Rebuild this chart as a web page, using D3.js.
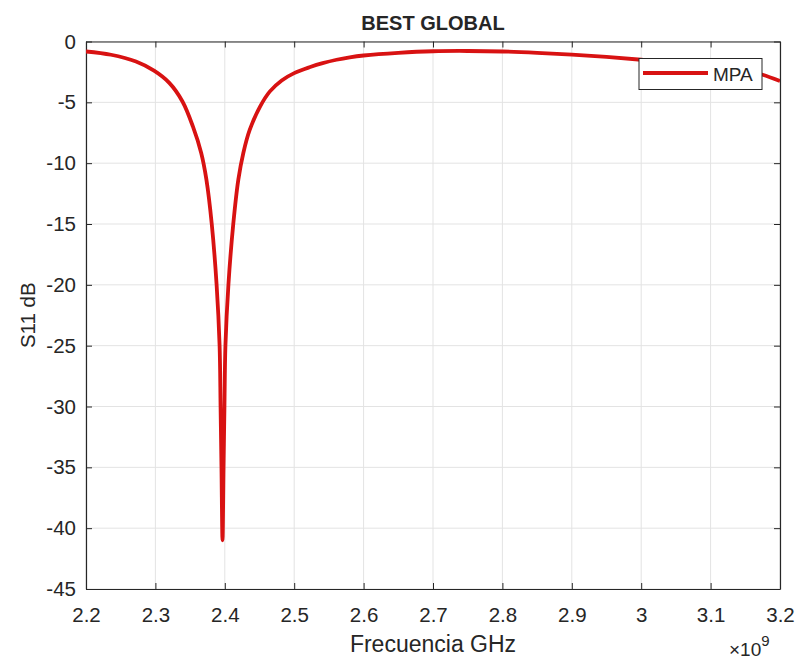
<!DOCTYPE html>
<html>
<head>
<meta charset="utf-8">
<script src="https://cdn.jsdelivr.net/npm/d3@7"></script>
<style>
  body { margin: 0; background: #ffffff; }
  text { font-family: "Liberation Sans", Arial, sans-serif; fill: #262626; }
</style>
</head>
<body>
<div id="chart"></div>
<script>
// ***** Data *****
var freqGHz = [2.200, 2.236, 2.272, 2.298, 2.320, 2.339, 2.354, 2.366, 2.3735, 2.3812, 2.3882, 2.3925, 2.3939, 2.3952,
               2.3967,
               2.3982, 2.3995, 2.4009, 2.4052, 2.4122, 2.4195, 2.4267, 2.436, 2.451, 2.465, 2.482, 2.500, 2.523,
               2.541, 2.561, 2.580, 2.600, 2.650, 2.700, 2.750, 2.800, 2.850, 2.900, 2.950, 3.000, 3.050,
               3.100, 3.150, 3.175, 3.200];
var s11dB   = [-0.82, -1.09, -1.65, -2.40, -3.40, -4.93, -6.98, -9.16, -11.35, -15, -20, -25, -30, -35,
               -41,
               -35, -30, -25, -20, -15, -11.35, -9.16, -7.25, -5.33, -4.10, -3.20, -2.60, -2.10,
               -1.78, -1.50, -1.30, -1.15, -0.93, -0.80, -0.78, -0.82, -0.93, -1.08, -1.27, -1.50, -1.78,
               -2.05, -2.40, -2.73, -3.25];
var xTicks = [2.2, 2.3, 2.4, 2.5, 2.6, 2.7, 2.8, 2.9, 3, 3.1, 3.2];
var yTicks = [0, -5, -10, -15, -20, -25, -30, -35, -40, -45];
var seriesName = "MPA";

// ***** Layout *****
var svgWidth = 799;
var svgHeight = 661;
var margin = { top: 41.5, right: 19, bottom: 72, left: 86 };
var width = svgWidth - margin.left - margin.right;
var height = svgHeight - margin.top - margin.bottom;

var svg = d3.select("#chart").append("svg")
    .attr("width", svgWidth)
    .attr("height", svgHeight);

var chartGroup = svg.append("g")
    .attr("transform", `translate(${margin.left}, ${margin.top})`);

// scales
var xScale = d3.scaleLinear().domain([2.2, 3.2]).range([0, width]);
var yScale = d3.scaleLinear().domain([-45, 0]).range([height, 0]);

// grid lines
chartGroup.append("g")
    .selectAll("line")
    .data(xTicks)
    .enter()
    .append("line")
    .attr("x1", d => xScale(d)).attr("x2", d => xScale(d))
    .attr("y1", 0).attr("y2", height)
    .attr("stroke", "#e3e3e3").attr("stroke-width", 1);

chartGroup.append("g")
    .selectAll("line")
    .data(yTicks)
    .enter()
    .append("line")
    .attr("x1", 0).attr("x2", width)
    .attr("y1", d => yScale(d)).attr("y2", d => yScale(d))
    .attr("stroke", "#e3e3e3").attr("stroke-width", 1);

// axes (ticks inward, on all four sides)
function styleAxis(g) {
    g.select(".domain").attr("stroke", "#262626").attr("stroke-width", 1.2);
    g.selectAll(".tick line").attr("stroke", "#262626");
    g.selectAll(".tick text").attr("fill", "#262626").style("font-size", "20.5px")
        .style("font-family", "Liberation Sans, Arial, sans-serif");
}

var bottomAxis = d3.axisBottom(xScale).tickValues(xTicks).tickSizeInner(-6).tickSizeOuter(0)
    .tickPadding(18).tickFormat(d => String(d));
chartGroup.append("g")
    .attr("transform", `translate(0, ${height})`)
    .call(bottomAxis)
    .call(styleAxis);

var topAxis = d3.axisTop(xScale).tickValues(xTicks).tickSizeInner(-6).tickSizeOuter(0).tickFormat("");
chartGroup.append("g").call(topAxis).call(styleAxis);

// plain hyphen for negatives, like the reference
var leftAxis = d3.axisLeft(yScale).tickValues(yTicks).tickSizeInner(-6).tickSizeOuter(0)
    .tickPadding(10).tickFormat(d => String(d));
chartGroup.append("g")
    .call(leftAxis)
    .call(styleAxis);

var rightAxis = d3.axisRight(yScale).tickValues(yTicks).tickSizeInner(-6).tickSizeOuter(0).tickFormat("");
chartGroup.append("g")
    .attr("transform", `translate(${width}, 0)`)
    .call(rightAxis)
    .call(styleAxis);

// clip for the curve
svg.append("defs").append("clipPath").attr("id", "plotClip")
    .append("rect").attr("x", 0).attr("y", 0).attr("width", width).attr("height", height);

// the S11 curve
var points = freqGHz.map((f, i) => [f, s11dB[i]]);
var line = d3.line()
    .x(d => xScale(d[0]))
    .y(d => yScale(d[1]))
    .curve(d3.curveCatmullRom.alpha(0.5));

chartGroup.append("path")
    .datum(points)
    .attr("clip-path", "url(#plotClip)")
    .attr("d", line)
    .attr("fill", "none")
    .attr("stroke", "#d81212")
    .attr("stroke-width", 3.8)
    .attr("stroke-linejoin", "round");

// legend
var legend = svg.append("g").attr("transform", "translate(639, 58.5)");
legend.append("rect")
    .attr("width", 123).attr("height", 31)
    .attr("fill", "#ffffff").attr("stroke", "#262626").attr("stroke-width", 1);
legend.append("line")
    .attr("x1", 4).attr("x2", 69).attr("y1", 14.5).attr("y2", 14.5)
    .attr("stroke", "#d81212").attr("stroke-width", 3.8);
legend.append("text")
    .attr("x", 74).attr("y", 22.5)
    .style("font-size", "19px")
    .text(seriesName);

// title and axis labels
svg.append("text")
    .attr("x", margin.left + width / 2).attr("y", 30)
    .attr("text-anchor", "middle")
    .style("font-size", "20px").style("font-weight", "bold")
    .text("BEST GLOBAL");

svg.append("text")
    .attr("transform", `translate(35, ${margin.top + height / 2}) rotate(-90)`)
    .attr("text-anchor", "middle")
    .style("font-size", "20.5px")
    .text("S11 dB");

svg.append("text")
    .attr("x", margin.left + width / 2).attr("y", 652)
    .attr("text-anchor", "middle")
    .style("font-size", "23px")
    .text("Frecuencia GHz");

// exponent marker
var expo = svg.append("text")
    .attr("x", 729).attr("y", 656)
    .style("font-size", "19px");
expo.append("tspan").text("\u00d710");
expo.append("tspan").attr("dy", -10).style("font-size", "15px").text("9");
</script>
</body>
</html>
